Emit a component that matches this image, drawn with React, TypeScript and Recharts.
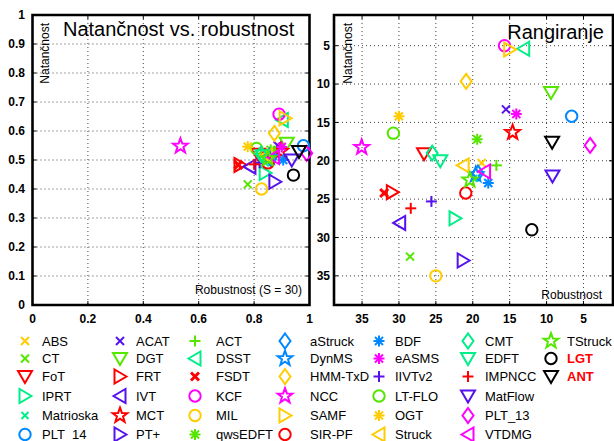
import React from 'react';
import { ScatterChart, Scatter, XAxis, YAxis, CartesianGrid, ReferenceArea } from 'recharts';

const trackers = [
  'ABS', 'CT', 'FoT', 'IPRT', 'Matrioska', 'PLT_14',
  'ACAT', 'DGT', 'FRT', 'IVT', 'MCT', 'PT+',
  'ACT', 'DSST', 'FSDT', 'KCF', 'MIL', 'qwsEDFT',
  'aStruck', 'DynMS', 'HMM-TxD', 'NCC', 'SAMF', 'SIR-PF',
  'BDF', 'eASMS', 'IIVTv2', 'LT-FLO', 'OGT', 'Struck',
  'CMT', 'EDFT', 'IMPNCC', 'MatFlow', 'PLT_13', 'VTDMG',
  'TStruck', 'LGT', 'ANT',
];

const YEL = '#ffcc00';
const GRN = '#55e600';
const TEA = '#00ee88';
const BLU = '#0088ff';
const PUR = '#5511ee';
const RED = '#ff0000';
const MAG = '#ff00ff';
const BLK = '#000000';

const colors = [
  YEL, GRN, RED, TEA, TEA, BLU,
  PUR, GRN, RED, PUR, RED, PUR,
  GRN, TEA, RED, MAG, YEL, GRN,
  BLU, BLU, YEL, MAG, YEL, RED,
  BLU, MAG, PUR, GRN, YEL, YEL,
  TEA, TEA, RED, PUR, MAG, MAG,
  GRN, BLK, BLK,
];

const shapes = [
  'x', 'x', 'v', '>', 'xs', 'o',
  'x', 'v', '>', '<', 'p', '>',
  '+', '<', 'xb', 'o', 'o', '*',
  'd', 'p', 'd', 'p', '>', 'o',
  '*', '*', '+', 'o', '*', '<',
  'd', 'v', '+', 'v', 'd', '<',
  'p', 'o', 'v',
];

// Left panel: robustness (S = 30) and accuracy
const robustness = [
  0.865, 0.777, 0.815, 0.84, 0.84, 0.978,
  0.885, 0.918, 0.749, 0.785, 0.895, 0.875,
  0.875, 0.902, 0.743, 0.89, 0.827, 0.86,
  0.86, 0.855, 0.873, 0.534, 0.912, 0.85,
  0.905, 0.9, 0.82, 0.809, 0.777, 0.845,
  0.825, 0.83, 0.8, 0.936, 0.99, 0.87,
  0.85, 0.942, 0.962,
];
const accuracy = [
  0.525, 0.416, 0.52, 0.455, 0.49, 0.549,
  0.55, 0.558, 0.483, 0.477, 0.53, 0.425,
  0.53, 0.638, 0.483, 0.658, 0.4, 0.535,
  0.505, 0.51, 0.592, 0.548, 0.644, 0.49,
  0.5, 0.545, 0.49, 0.54, 0.546, 0.515,
  0.52, 0.515, 0.485, 0.5, 0.523, 0.51,
  0.505, 0.448, 0.529,
];

// Right panel: ranks
const robustRank = [
  18.8, 28.5, 26.6, 22.4, 19.9, 6.6,
  15.5, 9.4, 30.9, 29.9, 14.6, 21.3,
  16.8, 13.1, 32.0, 15.7, 25.0, 19.4,
  19.3, 19.6, 20.9, 35.05, 15.0, 20.95,
  17.9, 14.1, 25.6, 30.75, 30.0, 21.3,
  25.5, 24.4, 28.4, 9.2, 4.1, 18.4,
  20.4, 12.0, 9.25,
];
const accuracyRank = [
  20.3, 32.5, 19.1, 27.5, 22.3, 14.2,
  13.3, 11.1, 24.1, 28.1, 16.3, 33.0,
  20.6, 5.4, 24.2, 5.0, 35.0, 17.2,
  21.6, 21.8, 9.65, 18.25, 5.5, 24.2,
  22.9, 13.9, 25.3, 16.4, 14.2, 20.6,
  19.0, 20.0, 26.2, 22.0, 18.0, 21.4,
  22.5, 29.0, 17.6,
];

const leftXTicks = [0, 0.2, 0.4, 0.6, 0.8, 1];
const leftYTicks = [0, 0.1, 0.2, 0.3, 0.4, 0.5, 0.6, 0.7, 0.8, 0.9, 1];
const rankTicks = [5, 10, 15, 20, 25, 30, 35];
const rankDomain: [number, number] = [1, 38.8];

const FONT = '"Liberation Sans", Arial, Helvetica, sans-serif';

function starPoints(cx: number, cy: number, R: number, r: number) {
  const pts: string[] = [];
  for (let k = 0; k < 10; k++) {
    const a = (-90 + k * 36) * Math.PI / 180;
    const rr = k % 2 === 0 ? R : r;
    pts.push(`${cx + rr * Math.cos(a)},${cy + rr * Math.sin(a)}`);
  }
  return pts.join(' ');
}

function Marker({ cx, cy, kind, color }: { cx: number; cy: number; kind: string; color: string }) {
  const sw = 2;
  const common = { stroke: color, strokeWidth: sw, fill: 'none', strokeLinejoin: 'miter' as const };
  switch (kind) {
    case 'x':
    case 'xs':
    case 'xb': {
      const a = kind === 'xs' ? 3.5 : 4;
      const w = kind === 'xb' ? 3 : sw;
      return (
        <g stroke={color} strokeWidth={w}>
          <line x1={cx - a} y1={cy - a} x2={cx + a} y2={cy + a} />
          <line x1={cx - a} y1={cy + a} x2={cx + a} y2={cy - a} />
        </g>
      );
    }
    case '+':
      return (
        <g stroke={color} strokeWidth={sw}>
          <line x1={cx - 5.5} y1={cy} x2={cx + 5.5} y2={cy} />
          <line x1={cx} y1={cy - 5.5} x2={cx} y2={cy + 5.5} />
        </g>
      );
    case '*':
      return (
        <g stroke={color} strokeWidth={sw}>
          <line x1={cx - 5.5} y1={cy} x2={cx + 5.5} y2={cy} />
          <line x1={cx} y1={cy - 5.5} x2={cx} y2={cy + 5.5} />
          <line x1={cx - 4} y1={cy - 4} x2={cx + 4} y2={cy + 4} />
          <line x1={cx - 4} y1={cy + 4} x2={cx + 4} y2={cy - 4} />
        </g>
      );
    case 'o':
      return <circle cx={cx} cy={cy} r={5.7} {...common} />;
    case 'd':
      return <polygon points={`${cx},${cy - 7.5} ${cx + 5.5},${cy} ${cx},${cy + 7.5} ${cx - 5.5},${cy}`} {...common} />;
    case 'v':
      return <polygon points={`${cx - 7},${cy - 5.5} ${cx + 7},${cy - 5.5} ${cx},${cy + 6.5}`} {...common} />;
    case '<':
      return <polygon points={`${cx - 6.5},${cy} ${cx + 5.5},${cy - 7} ${cx + 5.5},${cy + 7}`} {...common} />;
    case '>':
      return <polygon points={`${cx + 6.5},${cy} ${cx - 5.5},${cy - 7} ${cx - 5.5},${cy + 7}`} {...common} />;
    case 'p':
      return <polygon points={starPoints(cx, cy, 7.8, 3.2)} {...common} />;
    default:
      return null;
  }
}

const tickFont = { fontFamily: FONT, fontSize: 12, fontWeight: 'bold' as const, fill: '#000' };

// plot box geometry (in each chart's own SVG coordinates)
const LBOX = { l: 32.5, r: 309.5, t: 15, b: 305 };
const RBOX = { l: 34, r: 313, t: 15, b: 305 };

function makeYTick(box: typeof LBOX, gap: number) {
  return (p: any) => (
    <g>
      <text x={box.l - gap} y={p.y} dy={4.3} textAnchor="end" {...tickFont}>{String(p.payload.value)}</text>
      <line x1={box.l} x2={box.l + 4} y1={p.y} y2={p.y} stroke="#000" strokeWidth={1} />
      <line x1={box.r - 4} x2={box.r} y1={p.y} y2={p.y} stroke="#000" strokeWidth={1} />
    </g>
  );
}
function makeXTick(box: typeof LBOX) {
  return (p: any) => (
    <g>
      <text x={p.x} y={box.b + 17.5} textAnchor="middle" {...tickFont}>{String(p.payload.value)}</text>
      <line x1={p.x} x2={p.x} y1={box.b} y2={box.b - 4} stroke="#000" strokeWidth={1} />
      <line x1={p.x} x2={p.x} y1={box.t} y2={box.t + 4} stroke="#000" strokeWidth={1} />
    </g>
  );
}

const legendRowsY = [341, 358.5, 376.5, 396, 415.5, 434.5];
const legendMarkerX = [25, 120, 195, 285, 379, 468, 551];
const legendTextX = [42, 136, 216, 310, 395, 485, 567];

export default function App() {
  const idx = trackers.map((_, i) => i);
  return (
    <div style={{ position: 'absolute', left: 0, top: 0, width: 614, height: 441, overflow: 'hidden', background: '#fff' }}>
      <div style={{ position: 'absolute', left: 0, top: 0 }}>
        <ScatterChart width={320} height={330} margin={{ top: 15, right: 10.5, bottom: 0, left: 0 }}>
          <CartesianGrid stroke="#444" strokeDasharray="1 3" />
          <XAxis type="number" dataKey="x" domain={[0, 1]} ticks={leftXTicks} height={25}
            axisLine={false} tickLine={false} tick={makeXTick(LBOX)} interval={0} />
          <YAxis type="number" dataKey="y" domain={[0, 1]} ticks={leftYTicks} width={32.5}
            axisLine={false} tickLine={false} tick={makeYTick(LBOX, 7.5)} interval={0} />
          <ReferenceArea x1={0} x2={1} y1={0} y2={1} fill="none" fillOpacity={0} stroke="#000" strokeWidth={2.6} ifOverflow="visible" />
          {idx.map((i) => (
            <Scatter key={trackers[i]} name={trackers[i]} data={[{ x: robustness[i], y: accuracy[i] }]}
              isAnimationActive={false}
              shape={(p: any) => <Marker cx={p.cx} cy={p.cy} kind={shapes[i]} color={colors[i]} />} />
          ))}
        </ScatterChart>
      </div>
      <div style={{ position: 'absolute', left: 300, top: 0 }}>
        <ScatterChart width={314} height={330} margin={{ top: 15, right: 1, bottom: 0, left: 0 }}>
          <CartesianGrid stroke="#444" strokeDasharray="1 3" />
          <XAxis type="number" dataKey="x" domain={rankDomain} reversed ticks={rankTicks} height={25}
            axisLine={false} tickLine={false} tick={makeXTick(RBOX)} interval={0} allowDataOverflow />
          <YAxis type="number" dataKey="y" domain={rankDomain} reversed ticks={rankTicks} width={34}
            axisLine={false} tickLine={false} tick={makeYTick(RBOX, 4)} interval={0} allowDataOverflow />
          <ReferenceArea x1={rankDomain[0]} x2={rankDomain[1]} y1={rankDomain[0]} y2={rankDomain[1]} fill="none" fillOpacity={0} stroke="#000" strokeWidth={2.6} ifOverflow="visible" />
          {idx.map((i) => (
            <Scatter key={trackers[i]} name={trackers[i]} data={[{ x: robustRank[i], y: accuracyRank[i] }]}
              isAnimationActive={false}
              shape={(p: any) => <Marker cx={p.cx} cy={p.cy} kind={shapes[i]} color={colors[i]} />} />
          ))}
        </ScatterChart>
      </div>
      <svg width={614} height={441} style={{ position: 'absolute', left: 0, top: 0, pointerEvents: 'none' }}>
        <g fontFamily={FONT} fill="#000">
          <text x={63} y={36} fontSize={20}>Natančnost vs. robustnost</text>
          <text x={604} y={38.5} fontSize={20} textAnchor="end">Rangiranje</text>
          <text x={48.5} y={23} fontSize={12} textAnchor="end" transform="rotate(-90 48.5 23)">Natančnost</text>
          <text x={352} y={23} fontSize={12} textAnchor="end" transform="rotate(-90 352 23)">Natančnost</text>
          <text x={302} y={294} fontSize={12} textAnchor="end">Robustnost (S = 30)</text>
          <text x={602} y={299} fontSize={12} textAnchor="end">Robustnost</text>
        </g>
        {idx.map((i) => {
          const col = Math.floor(i / 6);
          const row = i % 6;
          const y = legendRowsY[row];
          const special = trackers[i] === 'LGT' || trackers[i] === 'ANT';
          return (
            <g key={trackers[i]}>
              <Marker cx={legendMarkerX[col]} cy={y} kind={shapes[i]} color={colors[i]} />
              <text x={legendTextX[col]} y={y + 4.6} fontFamily={FONT} fontSize={13}
                fontWeight={special ? 'bold' : 'normal'} fill={special ? '#ff0000' : '#000'}>{trackers[i]}</text>
            </g>
          );
        })}
      </svg>
    </div>
  );
}
